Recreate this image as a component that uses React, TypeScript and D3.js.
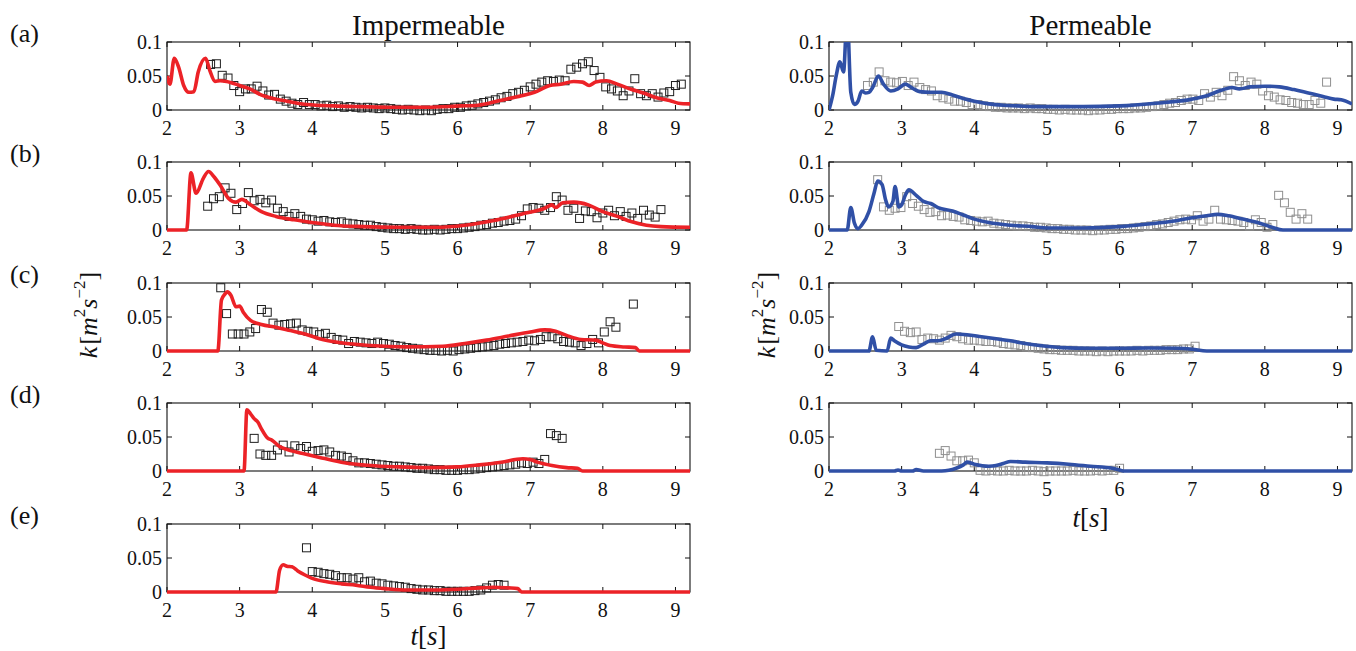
import React from "react";
import * as d3 from "d3";

// ---------- axes ----------
const X_TICKS = [2, 3, 4, 5, 6, 7, 8, 9];
const Y_TICKS = [0, 0.05, 0.1];
const Y_TICK_LABELS = ["0", "0.05", "0.1"];
const X_DOMAIN: [number, number] = [2, 9.2];
const Y_DOMAIN: [number, number] = [0, 0.1];
const PANEL_LABELS = ["(a)", "(b)", "(c)", "(d)", "(e)"];
const COLUMN_TITLES = ["Impermeable", "Permeable"];

// ---------- Impermeable: model lines (t, k) ----------
const impLineA: [number, number][] = [[2.0,0.050],[2.04,0.038],[2.1,0.076],[2.16,0.063],[2.23,0.036],[2.3,0.026],[2.37,0.027],[2.43,0.056],[2.53,0.076],[2.59,0.058],[2.66,0.042],[2.73,0.043],[2.82,0.042],[3.0,0.036],[3.14,0.031],[3.28,0.023],[3.46,0.017],[3.65,0.013],[3.93,0.008],[4.3,0.006],[4.66,0.005],[5.12,0.004],[5.58,0.004],[6.04,0.006],[6.28,0.007],[6.58,0.014],[6.88,0.021],[7.06,0.026],[7.27,0.036],[7.42,0.038],[7.6,0.042],[7.72,0.041],[7.81,0.036],[7.9,0.041],[8.05,0.043],[8.2,0.038],[8.38,0.031],[8.56,0.025],[8.74,0.018],[8.92,0.014],[9.04,0.010],[9.2,0.009]];
const impLineB: [number, number][] = [[2.0,0],[2.27,0],[2.33,0.084],[2.4,0.054],[2.5,0.076],[2.57,0.086],[2.65,0.078],[2.75,0.063],[2.85,0.046],[2.95,0.041],[3.03,0.045],[3.15,0.037],[3.3,0.027],[3.5,0.020],[3.75,0.015],[4.0,0.011],[4.3,0.007],[4.7,0.005],[5.2,0.004],[5.7,0.004],[6.1,0.007],[6.5,0.014],[6.9,0.024],[7.2,0.032],[7.3,0.037],[7.35,0.033],[7.45,0.040],[7.6,0.041],[7.8,0.037],[8.0,0.027],[8.2,0.020],[8.4,0.012],[8.6,0.007],[8.8,0.005],[9.2,0.004]];
const impLineC: [number, number][] = [[2.0,0],[2.7,0],[2.75,0.075],[2.8,0.084],[2.83,0.087],[2.88,0.082],[2.95,0.065],[3.0,0.066],[3.05,0.057],[3.15,0.045],[3.3,0.039],[3.5,0.035],[3.7,0.030],[3.9,0.025],[4.1,0.018],[4.4,0.012],[4.8,0.008],[5.3,0.006],[5.8,0.007],[6.1,0.011],[6.4,0.016],[6.7,0.022],[7.0,0.028],[7.2,0.031],[7.35,0.029],[7.5,0.023],[7.7,0.017],[7.9,0.016],[8.0,0.012],[8.1,0.008],[8.3,0.006],[8.45,0.005],[8.5,0],[9.2,0]];
const impLineD: [number, number][] = [[2.0,0],[3.06,0],[3.1,0.090],[3.15,0.084],[3.2,0.077],[3.25,0.072],[3.3,0.062],[3.38,0.049],[3.45,0.045],[3.55,0.036],[3.7,0.030],[3.9,0.025],[4.1,0.020],[4.4,0.013],[4.8,0.008],[5.2,0.006],[5.6,0.005],[6.0,0.006],[6.3,0.009],[6.6,0.013],[6.9,0.018],[7.0,0.017],[7.1,0.013],[7.3,0.008],[7.5,0.005],[7.65,0.004],[7.72,0],[9.2,0]];
const impLineE: [number, number][] = [[2.0,0],[3.5,0],[3.55,0.032],[3.6,0.040],[3.65,0.038],[3.72,0.037],[3.8,0.031],[3.9,0.025],[4.0,0.020],[4.2,0.015],[4.4,0.012],[4.6,0.010],[4.8,0.007],[5.0,0.005],[5.3,0.003],[5.7,0.003],[6.0,0.004],[6.3,0.006],[6.5,0.007],[6.7,0.006],[6.83,0.005],[6.88,0],[9.2,0]];

// ---------- Impermeable: measured squares (sampled every SQ_STEP s from a start time) ----------
const SQ_STEP = 0.08;
const impSqStart = [2.6, 2.56, 2.74, 3.2, 3.92];
const impSqA = [0.067,0.068,0.051,0.047,0.036,0.027,0.031,0.031,0.035,0.028,0.022,0.023,0.016,0.013,0.010,0.008,0.011,0.008,0.008,0.006,0.007,0.005,0.006,0.004,0.005,0.004,0.003,0.004,0.003,0.002,0.003,0.002,0.001,0.000,0.001,0.000,-0.001,0.000,-0.001,0.001,0.002,0.002,0.004,0.004,0.006,0.007,0.009,0.011,0.013,0.015,0.018,0.020,0.024,0.026,0.029,0.034,0.038,0.041,0.043,0.042,0.044,0.043,0.060,0.063,0.068,0.071,0.058,0.048,0.034,0.031,0.028,0.021,0.028,0.046,0.024,0.021,0.024,0.019,0.025,0.027,0.036,0.038];
const impSqB = [0.035,0.046,0.049,0.062,0.054,0.030,0.039,0.055,0.043,0.045,0.040,0.044,0.032,0.027,0.020,0.024,0.020,0.016,0.015,0.013,0.014,0.012,0.011,0.012,0.010,0.009,0.008,0.007,0.007,0.005,0.004,0.003,0.002,0.002,0.001,0.002,0.001,0.000,0.000,0.001,0.000,0.001,0.002,0.002,0.003,0.004,0.005,0.007,0.008,0.010,0.011,0.013,0.014,0.016,0.021,0.031,0.033,0.032,0.029,0.033,0.049,0.044,0.029,0.032,0.017,0.028,0.027,0.018,0.025,0.029,0.021,0.027,0.020,0.025,0.017,0.029,0.022,0.019,0.030];
const impSqC: (number | null)[] = [0.093,0.055,0.025,0.025,0.025,0.028,0.033,0.061,0.057,0.041,0.038,0.039,0.040,0.041,0.031,0.029,0.028,0.024,0.026,0.020,0.017,0.016,0.011,0.014,0.013,0.012,0.011,0.013,0.011,0.010,0.008,0.007,0.005,0.004,0.003,0.002,0.001,0.001,0.000,0.001,0.000,0.002,0.003,0.004,0.005,0.006,0.007,0.008,0.010,0.011,0.012,0.013,0.014,0.016,0.015,0.017,0.021,0.021,0.018,0.014,0.013,0.012,0.008,0.011,0.017,0.012,0.028,0.043,0.035,null,null,0.069];
const impSqD = [0.048,0.025,0.023,0.023,0.031,0.038,0.028,0.037,0.033,0.036,0.029,0.030,0.031,0.028,0.023,0.022,0.020,0.015,0.012,0.012,0.011,0.010,0.009,0.008,0.007,0.007,0.006,0.005,0.004,0.004,0.003,0.002,0.002,0.001,0.001,0.001,0.002,0.002,0.003,0.004,0.005,0.006,0.007,0.008,0.009,0.010,0.012,0.011,0.013,0.011,0.017,0.055,0.052,0.048];
const impSqE = [0.065,0.030,0.029,0.027,0.026,0.024,0.021,0.021,0.019,0.021,0.015,0.016,0.013,0.012,0.010,0.009,0.008,0.007,0.005,0.004,0.003,0.003,0.002,0.002,0.001,0.001,0.001,0.001,0.001,0.002,0.003,0.006,0.010,0.011,0.010];

// ---------- Permeable: model lines (t, k) ----------
const permLineA: [number, number][] = [[2.0,0],[2.05,0.021],[2.1,0.051],[2.15,0.071],[2.2,0.056],[2.25,0.14],[2.3,0.026],[2.35,0.008],[2.4,0.013],[2.45,0.028],[2.5,0.025],[2.55,0.026],[2.6,0.033],[2.68,0.050],[2.75,0.038],[2.85,0.028],[2.95,0.031],[3.05,0.038],[3.15,0.032],[3.25,0.027],[3.4,0.026],[3.55,0.026],[3.7,0.022],[3.85,0.017],[4.0,0.013],[4.2,0.009],[4.4,0.007],[4.6,0.006],[4.8,0.005],[5.0,0.005],[5.5,0.005],[6.0,0.006],[6.5,0.010],[7.0,0.016],[7.2,0.021],[7.4,0.029],[7.55,0.033],[7.65,0.031],[7.8,0.034],[8.0,0.035],[8.2,0.034],[8.4,0.030],[8.6,0.025],[8.8,0.020],[8.95,0.016],[9.05,0.015],[9.2,0.009]];
const permLineB: [number, number][] = [[2.0,0],[2.25,0],[2.3,0.033],[2.35,0.010],[2.4,0.002],[2.45,0.007],[2.55,0.027],[2.62,0.054],[2.67,0.072],[2.73,0.067],[2.78,0.044],[2.82,0.034],[2.88,0.042],[2.91,0.064],[2.96,0.034],[3.0,0.037],[3.05,0.051],[3.1,0.059],[3.2,0.051],[3.3,0.042],[3.4,0.039],[3.5,0.033],[3.7,0.028],[3.85,0.022],[4.0,0.016],[4.2,0.011],[4.5,0.007],[4.8,0.005],[5.0,0.003],[5.5,0.003],[6.0,0.005],[6.5,0.010],[6.8,0.014],[7.0,0.018],[7.2,0.021],[7.35,0.023],[7.5,0.021],[7.7,0.016],[7.9,0.011],[8.1,0.004],[8.25,0],[9.2,0]];
const permLineC: [number, number][] = [[2.0,0],[2.55,0],[2.6,0.021],[2.65,0.001],[2.8,0],[2.85,0.019],[2.9,0.015],[3.0,0.009],[3.1,0.006],[3.2,0.005],[3.3,0.010],[3.4,0.015],[3.5,0.015],[3.6,0.018],[3.75,0.025],[3.9,0.024],[4.1,0.021],[4.3,0.018],[4.5,0.015],[4.7,0.011],[4.9,0.008],[5.2,0.005],[5.6,0.004],[6.0,0.004],[6.4,0.0045],[6.8,0.004],[7.0,0.0025],[7.2,0],[9.2,0]];
const permLineD: [number, number][] = [[2.0,0],[2.9,0],[2.95,0.0015],[3.0,0],[3.15,0],[3.2,0.002],[3.3,0],[3.55,0],[3.65,0.001],[3.75,0.004],[3.85,0.009],[3.9,0.013],[4.0,0.010],[4.2,0.007],[4.3,0.008],[4.4,0.011],[4.5,0.014],[4.7,0.013],[5.0,0.012],[5.3,0.010],[5.6,0.007],[5.9,0.004],[6.0,0.0015],[6.05,0],[9.2,0]];

// ---------- Permeable: measured squares ----------
const permSqStart = [2.53, 2.67, 2.96, 3.52];
const permSqA = [0.036,0.041,0.056,0.043,0.041,0.040,0.042,0.036,0.041,0.033,0.030,0.028,0.021,0.018,0.016,0.013,0.013,0.011,0.008,0.008,0.006,0.005,0.004,0.004,0.003,0.003,0.003,0.002,0.003,0.002,0.002,0.001,0.001,0.000,0.001,0.000,0.000,0.000,-0.001,0.000,0.000,0.001,0.001,0.002,0.002,0.002,0.003,0.003,0.004,0.005,0.006,0.008,0.010,0.011,0.014,0.016,0.016,0.014,0.024,0.019,0.026,0.021,0.029,0.049,0.043,0.036,0.041,0.038,0.028,0.021,0.019,0.015,0.014,0.011,0.010,0.008,0.008,0.014,0.010,0.041];
const permSqB = [0.074,0.034,0.029,0.032,0.033,0.049,0.039,0.035,0.030,0.026,0.027,0.021,0.022,0.020,0.019,0.015,0.014,0.013,0.012,0.013,0.010,0.009,0.008,0.007,0.006,0.006,0.005,0.004,0.004,0.003,0.002,0.002,0.001,0.001,0.000,0.000,0.000,-0.001,0.000,0.000,0.001,0.001,0.002,0.002,0.003,0.004,0.005,0.006,0.008,0.009,0.011,0.013,0.015,0.016,0.015,0.021,0.013,0.016,0.029,0.016,0.015,0.014,0.013,0.011,0.006,0.015,0.011,0.004,0.008,0.051,0.040,0.026,0.016,0.024,0.016];
const permSqC = [0.036,0.029,0.027,0.028,0.017,0.019,0.018,0.016,0.019,0.023,0.021,0.018,0.016,0.016,0.015,0.014,0.014,0.013,0.011,0.010,0.009,0.008,0.006,0.005,0.004,0.003,0.002,0.002,0.001,0.001,0.001,0.000,0.000,0.000,-0.001,0.000,-0.001,0.000,0.000,0.000,0.000,0.001,0.000,0.001,0.001,0.001,0.002,0.002,0.002,0.003,0.003,0.007];
const permSqD = [0.026,0.030,0.022,0.015,0.015,0.016,0.012,0.001,0.000,0.001,0.000,0.000,0.001,0.000,0.000,0.000,0.001,0.000,-0.001,0.000,0.000,0.000,0.000,0.001,0.000,0.000,0.000,0.001,0.000,0.001,0.001,0.004];

const impLines = [impLineA, impLineB, impLineC, impLineD, impLineE];
const impSquares = [impSqA, impSqB, impSqC, impSqD, impSqE];
const permLines = [permLineA, permLineB, permLineC, permLineD];
const permSquares = [permSqA, permSqB, permSqC, permSqD];

// ---------- layout ----------
const WIDTH = 1356;
const HEIGHT = 651;
const COL_X0 = [167, 829];
const PANEL_W = 523;
const PANEL_H = 68;
const ROW_Y0 = [42, 162, 283, 403, 524];
const FONT = "Liberation Serif, DejaVu Serif, Times New Roman, serif";
const RED = "#ec2227";
const BLUE = "#3050a6";
const SQ_SIZE = 8;

type PanelProps = {
  id: string;
  x0: number;
  y0: number;
  line: [number, number][];
  color: string;
  squares: (number | null)[];
  sqStart: number;
  sqColor: string;
};

const txt = (size: number): React.CSSProperties => ({ fontFamily: FONT, fontSize: size + "px" });

function Panel({ id, x0, y0, line, color, squares, sqStart, sqColor }: PanelProps) {
  const x = d3.scaleLinear().domain(X_DOMAIN).range([x0, x0 + PANEL_W]);
  const y = d3.scaleLinear().domain(Y_DOMAIN).range([y0 + PANEL_H, y0]);
  const path = d3
    .line<[number, number]>()
    .x((d) => x(d[0]))
    .y((d) => y(d[1]))
    .curve(d3.curveMonotoneX)(line) as string;
  const tickLen = 5;
  return (
    <g>
      <defs>
        <clipPath id={id}>
          <rect x={x0} y={y0} width={PANEL_W} height={PANEL_H + 3} />
        </clipPath>
      </defs>
      <rect x={x0} y={y0} width={PANEL_W} height={PANEL_H} fill="white" stroke="#111" strokeWidth={1.1} />
      {X_TICKS.map((t) => (
        <g key={"xt" + t}>
          <line x1={x(t)} x2={x(t)} y1={y0 + PANEL_H} y2={y0 + PANEL_H - tickLen} stroke="#111" strokeWidth={1} />
          <line x1={x(t)} x2={x(t)} y1={y0} y2={y0 + tickLen} stroke="#111" strokeWidth={1} />
          <text x={x(t)} y={y0 + PANEL_H + 18} textAnchor="middle" dominantBaseline="central" style={txt(20)} fill="#111">
            {t}
          </text>
        </g>
      ))}
      {Y_TICKS.map((v, i) => (
        <g key={"yt" + v}>
          <line x1={x0} x2={x0 + tickLen} y1={y(v)} y2={y(v)} stroke="#111" strokeWidth={1} />
          <line x1={x0 + PANEL_W} x2={x0 + PANEL_W - tickLen} y1={y(v)} y2={y(v)} stroke="#111" strokeWidth={1} />
          <text x={x0 - 5} y={y(v)} textAnchor="end" dominantBaseline="central" style={txt(20)} fill="#111">
            {Y_TICK_LABELS[i]}
          </text>
        </g>
      ))}
      {squares.map((v, i) =>
        v === null ? null : (
          <rect
            key={"sq" + i}
            x={x(sqStart + i * SQ_STEP) - SQ_SIZE / 2}
            y={y(v) - SQ_SIZE / 2}
            width={SQ_SIZE}
            height={SQ_SIZE}
            fill="none"
            stroke={sqColor}
            strokeWidth={1}
          />
        )
      )}
      <path d={path} fill="none" stroke={color} strokeWidth={3.6} strokeLinejoin="round" clipPath={`url(#${id})`} />
    </g>
  );
}

function YLabel({ cx, cy }: { cx: number; cy: number }) {
  return (
    <text transform={`translate(${cx},${cy}) rotate(-90)`} textAnchor="middle" style={txt(26)} fill="#111" dominantBaseline="central">
      <tspan fontStyle="italic">k</tspan>
      <tspan dx={2}>[</tspan>
      <tspan fontStyle="italic">m</tspan>
      <tspan style={{ fontSize: "17px" }} dy={-9}>2</tspan>
      <tspan fontStyle="italic" dy={9}>s</tspan>
      <tspan style={{ fontSize: "17px" }} dy={-9}>−2</tspan>
      <tspan dy={9}>]</tspan>
    </text>
  );
}

function TLabel({ cx, cy }: { cx: number; cy: number }) {
  return (
    <text x={cx} y={cy} textAnchor="middle" dominantBaseline="central" style={txt(27)} fill="#111">
      <tspan fontStyle="italic">t</tspan>
      <tspan>[</tspan>
      <tspan fontStyle="italic">s</tspan>
      <tspan>]</tspan>
    </text>
  );
}

export default function App() {
  return (
    <svg
      width={WIDTH}
      height={HEIGHT}
      viewBox={`0 0 ${WIDTH} ${HEIGHT}`}
      style={{ position: "absolute", left: 0, top: 0, background: "white" }}
    >
      <rect x={0} y={0} width={WIDTH} height={HEIGHT} fill="white" />
      {COLUMN_TITLES.map((title, c) => (
        <text
          key={title}
          x={COL_X0[c] + PANEL_W / 2}
          y={25}
          textAnchor="middle"
          dominantBaseline="central"
          style={txt(29)}
          fill="#111"
        >
          {title}
        </text>
      ))}
      {PANEL_LABELS.map((lab, r) => (
        <text key={lab} x={10} y={ROW_Y0[r] - 9} dominantBaseline="central" style={txt(26)} fill="#111">
          {lab}
        </text>
      ))}
      {impLines.map((ln, r) => (
        <Panel
          key={"imp" + r}
          id={"clip-imp-" + r}
          x0={COL_X0[0]}
          y0={ROW_Y0[r]}
          line={ln}
          color={RED}
          squares={impSquares[r]}
          sqStart={impSqStart[r]}
          sqColor="#1e1e1e"
        />
      ))}
      {permLines.map((ln, r) => (
        <Panel
          key={"perm" + r}
          id={"clip-perm-" + r}
          x0={COL_X0[1]}
          y0={ROW_Y0[r]}
          line={ln}
          color={BLUE}
          squares={permSquares[r]}
          sqStart={permSqStart[r]}
          sqColor="#8f8f8f"
        />
      ))}
      <YLabel cx={88} cy={315} />
      <YLabel cx={766} cy={315} />
      <TLabel cx={COL_X0[0] + PANEL_W / 2} cy={636} />
      <TLabel cx={COL_X0[1] + PANEL_W / 2} cy={518} />
    </svg>
  );
}
